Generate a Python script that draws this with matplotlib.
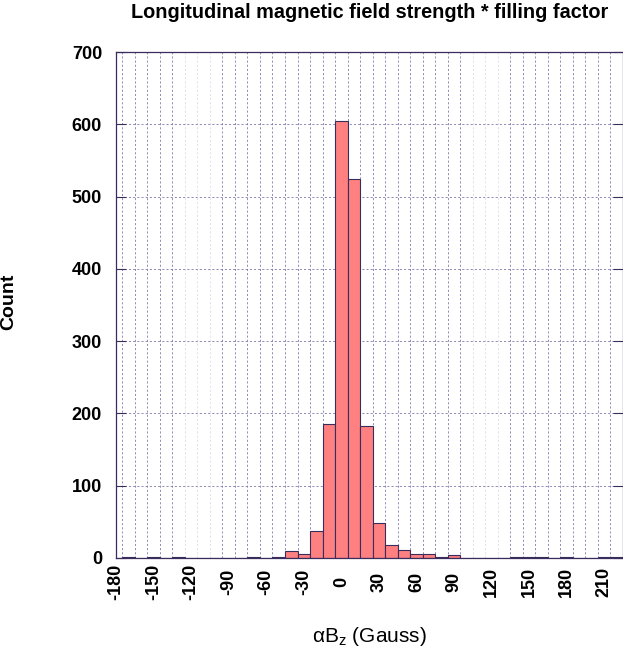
import matplotlib
matplotlib.use("Agg")
import matplotlib.pyplot as plt
import numpy as np

# Data: histogram bins (centres, width 10 Gauss) and counts
bin_centers = [-170, -160, -150, -140, -130, -120, -110, -100, -90, -80,
               -70, -60, -50, -40, -30, -20, -10, 0, 10, 20,
               30, 40, 50, 60, 70, 80, 90, 100, 110, 120,
               130, 140, 150, 160, 170, 180, 190, 200, 210, 220]
counts = [2, 0, 1, 0, 2, 0, 0, 0, 0, 0,
          1, 0, 1, 10, 6, 37, 185, 604, 525, 182,
          48, 18, 11, 6, 5, 1, 4, 0, 0, 0,
          0, 1, 1, 1, 0, 1, 0, 0, 1, 1]
bin_width = 10
x_ticks = [-180, -150, -120, -90, -60, -30, 0, 30, 60, 90, 120, 150, 180, 210]
y_ticks = [0, 100, 200, 300, 400, 500, 600, 700]
faint_edges = [-125, -115, -105, 105, 115, 125]

plt.rcParams['font.family'] = ['Liberation Sans', 'DejaVu Sans']

fig = plt.figure(figsize=(6.23, 6.52), dpi=100)
ax = fig.add_axes([0.1862, 0.1442, 0.8138, 0.7760])

ax.set_xlim(-175, 225)
ax.set_ylim(0, 700)

grid_col = '#7f77aa'
faint_col = '#dcd8ea'
edges = np.arange(-175, 226, 10)
for e in edges:
    c = faint_col if e in faint_edges else grid_col
    ax.axvline(e, color=c, lw=0.6, ls=(0, (2.5, 2.5)), zorder=0)
for yv in y_ticks[1:-1]:
    ax.axhline(yv, color=grid_col, lw=0.6, ls=(0, (2.5, 2.5)), zorder=0)

ax.bar(bin_centers, counts, width=bin_width, color='#ff8080',
       edgecolor='#3a2d5c', linewidth=0.8, zorder=2)

ax.set_xticks(x_ticks)
ax.set_xticklabels([str(v) for v in x_ticks], rotation=90, va='center',
                   fontsize=13, fontweight='bold')
ax.set_yticks(y_ticks)
ax.set_yticklabels([str(v) for v in y_ticks], fontsize=13, fontweight='bold')
ax.tick_params(axis='y', direction='in', length=7, width=0.8, color='#3a2d5c',
               right=True, pad=10)
ax.tick_params(axis='x', length=0, pad=17.3)

for s in ax.spines.values():
    s.set_color('#3a2d5c')
    s.set_linewidth(0.9)

fig.text(0.594, 1 - 13 / 652, 'Longitudinal magnetic field strength * filling factor',
         fontsize=14.3, fontweight='bold', ha='center', va='center')
ax.set_ylabel('Count', fontsize=14, fontweight='bold')
ax.yaxis.set_label_coords(-0.195, 0.506)
ax.set_xlabel('αB$_{\\mathregular{z}}$ (Gauss)', fontsize=15)
ax.xaxis.set_label_coords(0.5, -0.132)

fig.savefig('out.png', dpi=100)
